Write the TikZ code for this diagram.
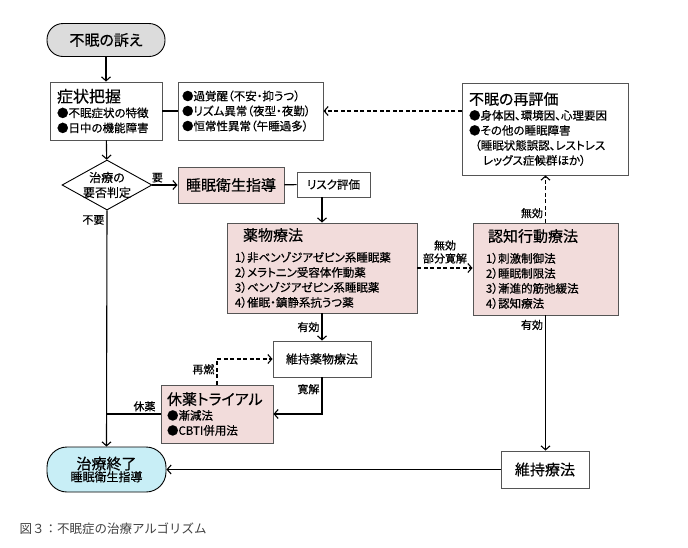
\documentclass[tikz,border=0pt]{standalone}
\usepackage{fontspec}
\setmainfont[RawFeature={+palt},FakeBold=0.5]{Noto Sans CJK JP}
\newfontfamily\captionface{Noto Sans CJK JP}
\usetikzlibrary{arrows.meta,shapes.geometric}
\definecolor{boxpink}{RGB}{242,220,219}
\definecolor{endcyan}{RGB}{200,238,246}
\definecolor{startgray}{RGB}{220,220,220}
\definecolor{edgegray}{RGB}{85,85,85}
\newcommand{\ttlfont}{\fontsize{15}{15}\selectfont}
\newcommand{\itmfont}{\fontsize{11.5}{15}\selectfont}
\newcommand{\lblfont}{\fontsize{11}{13}\selectfont}

\begin{document}
\begin{tikzpicture}[x=1pt,y=-1pt,
  box/.style={draw=edgegray,line width=0.9pt,inner ysep=0pt,align=left,font=\itmfont},
  pill/.style={draw=black,line width=0.9pt,inner sep=0pt,align=center},
  flow/.style={line width=1.1pt,-{Straight Barb[length=4pt,width=9pt,line width=1.1pt]}},
  plain/.style={line width=1.1pt},
  dashline/.style={dash pattern=on 4pt off 2.5pt},
  lbl/.style={font=\lblfont,inner sep=2pt}]
\useasboundingbox (0,0) rectangle (688,547);

% Start
\node[pill,fill=startgray,minimum width=118pt,minimum height=33pt,rounded corners=16pt,font=\ttlfont] (complaint) at (106,40) {不眠の訴え};

% Symptom boxes
\node[box,minimum width=112pt,minimum height=58pt,text width=98pt,inner xsep=7pt] (symptom) at (106,111)
  {{\fontsize{16}{15}\selectfont 症状把握}\\●不眠症状の特徴\\●日中の機能障害};
\node[box,minimum width=145pt,minimum height=58pt,text width=137pt,inner xsep=4pt] (other) at (250.5,111)
  {●過覚醒（不安・抑うつ）\\●リズム異常（夜型・夜勤）\\●恒常性異常（午睡過多）};
\node[box,minimum width=166pt,minimum height=92pt,text width=152pt,inner xsep=7pt] (reeval) at (545,129)
  {{\ttlfont 不眠の再評価}\\●身体因、環境因、心理要因\\●その他の睡眠障害\\
   \hspace*{6pt}（睡眠状態誤認、レストレス\\\hspace*{14pt}レッグス症候群ほか）};

% Decision
\node[diamond,draw=black,line width=0.9pt,minimum width=90pt,minimum height=50pt,inner sep=0pt,
  label={[align=center,font=\fontsize{12}{15}\selectfont]center:治療の\\要否判定}] (decide) at (107,185) {};

% Treatment boxes
\node[box,fill=boxpink,minimum width=106pt,minimum height=36pt,align=center,font=\ttlfont] (hygiene) at (231,185) {睡眠衛生指導};
\node[box,minimum width=73pt,minimum height=25pt,align=center] (risk) at (333.5,184.5) {リスク評価};
\node[box,fill=boxpink,minimum width=190pt,minimum height=90pt,text width=174pt,inner xsep=8pt] (drug) at (322,268)
  {\hspace*{8pt}{\ttlfont 薬物療法}\\[6pt]1）非ベンゾジアゼピン系睡眠薬\\2）メラトニン受容体作動薬\\3）ベンゾジアゼピン系睡眠薬\\4）催眠・鎮静系抗うつ薬};
\node[box,fill=boxpink,minimum width=145pt,minimum height=92pt,text width=119pt,inner xsep=13pt] (cbt) at (545.5,269)
  {\hspace*{2pt}{\ttlfont 認知行動療法}\\[6pt]1）刺激制御法\\2）睡眠制限法\\3）漸進的筋弛緩法\\4）認知療法};
\node[box,minimum width=98pt,minimum height=36pt,align=center,font=\fontsize{12}{14}\selectfont] (keep) at (322,359) {維持薬物療法};
\node[box,fill=boxpink,minimum width=112pt,minimum height=58pt,text width=104pt,inner xsep=4pt] (trial) at (217,414)
  {\hspace*{2pt}{\ttlfont 休薬トライアル}\\\hspace*{2pt}●漸減法\\\hspace*{2pt}●CBTI併用法};
\node[box,minimum width=88pt,minimum height=37pt,align=center,font=\ttlfont] (maint) at (545,469.5) {維持療法};

% End
\node[pill,fill=endcyan,minimum width=119pt,minimum height=45pt,rounded corners=20pt] (finish) at (106.5,469.5)
  {{\ttlfont 治療終了}\\{\fontsize{12}{14}\selectfont 睡眠衛生指導}};

% Caption
\node[anchor=west,text=black!75,font=\captionface\fontsize{12.5}{14}\selectfont] (caption) at (16,529) {図３：不眠症の治療アルゴリズム};

% Arrows
\draw[flow] (complaint) -- (symptom);
\draw[line width=2.5pt] (symptom) -- (other);
\draw[flow,dashline] (reeval.west |- other.east) -- (other.east);
\draw[flow] (symptom) -- (decide);
\draw[flow] (decide.east) -- node[lbl,above,pos=0.2] {要} (hygiene.west);
\draw[plain] (hygiene) -- (risk);
\draw[flow] (drug.north |- risk.south) -- (drug.north);
\draw[flow,dashline] (drug.east) -- node[lbl,above,align=center,yshift=2pt] {無効\\部分寛解} (drug.east -| cbt.west);
\draw[flow,dashline] (cbt.north) -- node[lbl,left,pos=0.2] {無効} (cbt.north |- reeval.south);
\draw[flow] (cbt.south) -- node[lbl,left,pos=0.07] {有効} (cbt.south |- maint.north);
\draw[flow] (maint.west) -- (finish.east);
\draw[flow] (decide.south) -- node[lbl,left,pos=0.04] {不要} (finish.north);
\draw[flow] (drug.south) -- node[lbl,left] {有効} (keep.north);
\draw[flow] (keep.south) |- node[lbl,left,pos=0.16] {寛解} (trial.east);
\draw[flow,dashline] (trial.north) |- node[lbl,left,pos=0.3] {再燃} (keep.west);
\draw[plain] (trial.west) -- node[lbl,above,pos=0.3] {休薬} (trial.west -| decide.south);
\end{tikzpicture}
\end{document}
